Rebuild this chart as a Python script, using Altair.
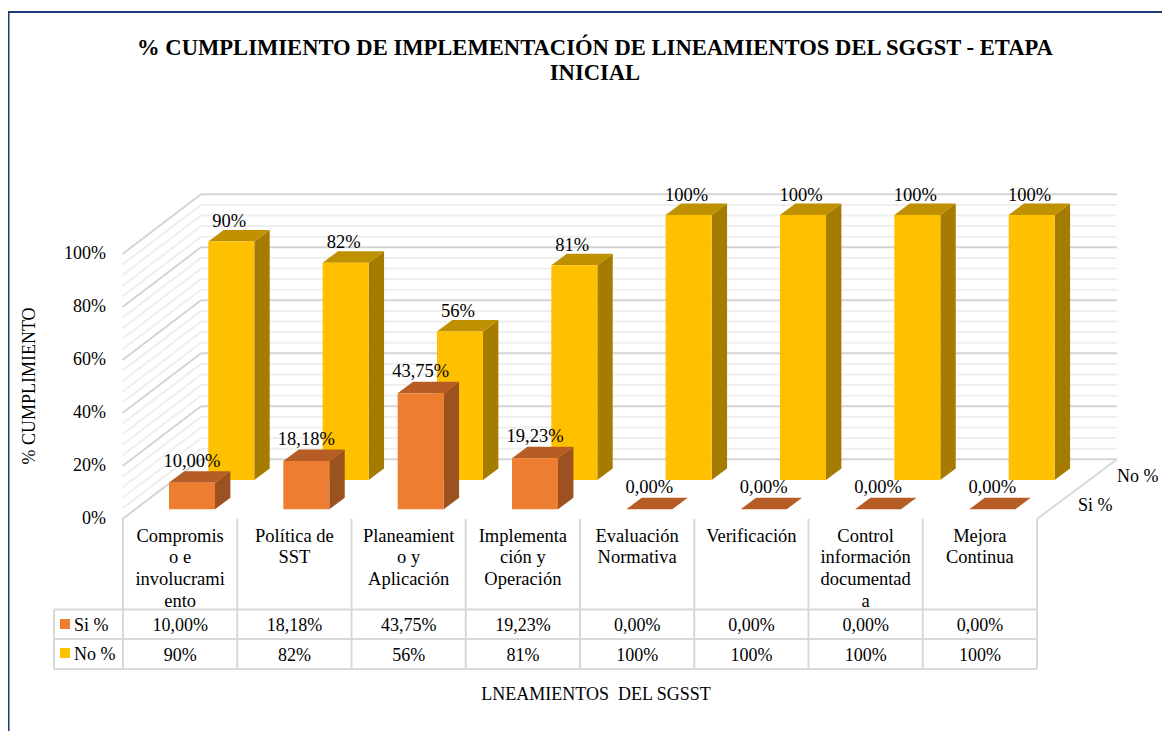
import altair as alt
import pandas as pd

title_lines = ["% CUMPLIMIENTO DE IMPLEMENTACIÓN DE LINEAMIENTOS DEL SGGST - ETAPA", "INICIAL"]
cat_lines = [
    ["Compromis", "o e", "involucrami", "ento"],
    ["Política de", "SST"],
    ["Planeamient", "o y", "Aplicación"],
    ["Implementa", "ción y", "Operación"],
    ["Evaluación", "Normativa"],
    ["Verificación"],
    ["Control", "información", "documentad", "a"],
    ["Mejora", "Continua"],
]
si_values = [10.0, 18.18, 43.75, 19.23, 0.0, 0.0, 0.0, 0.0]
no_values = [90, 82, 56, 81, 100, 100, 100, 100]
si_labels = ["10,00%", "18,18%", "43,75%", "19,23%", "0,00%", "0,00%", "0,00%", "0,00%"]
no_labels = ["90%", "82%", "56%", "81%", "100%", "100%", "100%", "100%"]
y_ticks = [0, 20, 40, 60, 80, 100]

W, H = 1154, 723
X0, XU = 123.0, 114.25   # page x of category 0, px per category
Y0, YU = 519.0, 2.65     # page y of 0 %, px per 1 %


def X(p):
    return (p - X0) / XU


def Y(p):
    return (Y0 - p) / YU


xs = alt.Scale(domain=[X(8), X(8 + W)], nice=False, zero=False)
ys = alt.Scale(domain=[Y(8 + H), Y(8)], nice=False, zero=False)
ex = alt.X("x:Q", scale=xs, axis=None)
ey = alt.Y("y:Q", scale=ys, axis=None)
ex2, ey2 = alt.X2("x2:Q"), alt.Y2("y2:Q")

GRID_MAJOR, GRID_MINOR, TABLE = "#d4d4d4", "#efefef", "#d9d9d9"
FONT = "Liberation Serif"
BAR_W = 46 / XU
STEP = 114.34 / XU
DX, DY = 15.4 / XU, 11.5 / YU
BACK_L, BACK_R, BACK_Y0 = 201.0, 1117.0, 459.3


def segs(rows):
    return pd.DataFrame([dict(x=X(a), x2=X(c), y=Y(b), y2=Y(d)) for a, b, c, d in rows])


def rules(rows, color, width):
    return alt.Chart(segs(rows)).mark_rule(color=color, strokeWidth=width).encode(x=ex, x2=ex2, y=ey, y2=ey2)


minor, major = [], []
for pct in range(0, 101, 4):
    yb = BACK_Y0 - pct * YU
    target = major if pct % 20 == 0 else minor
    target.append((BACK_L, yb, BACK_R, yb))
    target.append((BACK_L, yb, 122.5, yb + 59.7))

layers = [rules(minor, GRID_MINOR, 2), rules(major, GRID_MAJOR, 2)]
layers.append(rules([(1117, 459.3, 1037, 519)], TABLE, 2))

table = [(54, 609.5, 1037, 609.5), (54, 639, 1037, 639), (54, 669, 1037, 669), (54, 609.5, 54, 669)]
for k in range(9):
    xp = X0 + k * XU
    table.append((xp, 519, xp, 669))
layers.append(rules(table, TABLE, 2))


def bars(values, x_off, base, front, top, side):
    fr, sd, tp = [], [], []
    for i, v in enumerate(values):
        x0 = i * STEP + x_off
        x1 = x0 + BAR_W
        fr.append(dict(x=x0, x2=x1, y=base, y2=base + v))
        sd += [dict(id=i, x=x1, y=base, y2=base + v), dict(id=i, x=x1 + DX, y=base + DY, y2=base + v + DY)]
        tp += [dict(id=i, x=x0, x2=x1, y=base + v), dict(id=i, x=x0 + DX, x2=x1 + DX, y=base + v + DY)]
    return [
        alt.Chart(pd.DataFrame(sd)).mark_area(color=side).encode(x=ex, y=ey, y2=ey2, detail="id:N"),
        alt.Chart(pd.DataFrame(tp)).mark_area(color=top, orient="horizontal").encode(y=ey, x=ex, x2=ex2, detail="id:N"),
        alt.Chart(pd.DataFrame(fr)).mark_rect(color=front).encode(x=ex, x2=ex2, y=ey, y2=ey2),
    ]


NO_OFF, NO_BASE = X(208.3), Y(480)
SI_OFF, SI_BASE = X(169), Y(509.3)
layers += bars(no_values, NO_OFF, NO_BASE, "#FFC000", "#BF9000", "#A67C00")
layers += bars(si_values, SI_OFF, SI_BASE, "#ED7D31", "#B55D24", "#9C5220")

bar_labels = []
for i, (v, s) in enumerate(zip(no_values, no_labels)):
    bar_labels.append(dict(x=i * STEP + NO_OFF + BAR_W / 2 - 2 / XU, y=NO_BASE + v + 20.5 / YU, t=s))
for i, (v, s) in enumerate(zip(si_values, si_labels)):
    bar_labels.append(dict(x=i * STEP + SI_OFF + BAR_W / 2, y=SI_BASE + v + 22 / YU, t=s))

cat_texts = []
for i, lines in enumerate(cat_lines):
    for j, line in enumerate(lines):
        cat_texts.append(dict(x=i + 0.5, y=Y(535.5 + j * 21.7), t=line))

texts = []
for i in range(len(cat_lines)):
    texts.append(dict(x=i + 0.5, y=Y(625.5), t=si_labels[i]))
    texts.append(dict(x=i + 0.5, y=Y(655.5), t=no_labels[i]))
texts.append(dict(x=X(596), y=Y(695), t="LNEAMIENTOS \u00a0DEL SGSST"))


def text_layer(rows, size=18, **kw):
    return alt.Chart(pd.DataFrame(rows)).mark_text(font=FONT, fontSize=size, color="#000000", baseline="middle", **kw).encode(
        x=ex, y=ey, text="t:N")


layers.append(text_layer(bar_labels, size=18.5, align="center"))
layers.append(text_layer(cat_texts, size=18.5, align="center"))
layers.append(text_layer(texts, align="center"))
layers.append(text_layer([dict(x=X(106), y=t + 0.5 / YU, t=f"{t}%") for t in y_ticks], align="right"))
layers.append(text_layer([dict(x=X(74), y=Y(625.5), t="Si %"), dict(x=X(74), y=Y(655), t="No %"),
                          dict(x=X(1117), y=Y(476.5), t="No %"), dict(x=X(1078), y=Y(506), t="Si %")], align="left"))
layers.append(text_layer([dict(x=X(30), y=Y(386), t="% CUMPLIMIENTO")], align="center", angle=270))
layers.append(alt.Chart(pd.DataFrame([dict(x=X(595), y=Y(48 + k * 25), t=t) for k, t in enumerate(title_lines)])).mark_text(
    font=FONT, fontSize=22.6, fontWeight="bold", color="#000000", baseline="middle", align="center").encode(x=ex, y=ey, text="t:N"))

swatch = pd.DataFrame([dict(x=X(60), x2=X(70), y=Y(619), y2=Y(629), c="#ED7D31"),
                       dict(x=X(60), x2=X(70), y=Y(648), y2=Y(658), c="#FFC000")])
layers.append(alt.Chart(swatch).mark_rect().encode(x=ex, x2=ex2, y=ey, y2=ey2, color=alt.Color("c:N", scale=None)))

layers.append(rules([(8.5, 12, 8.5, 731), (8, 12, 1162, 12)], "#1F3A7A", 2))

chart = alt.layer(*layers).properties(
    width=W, height=H, padding=0, background="white", autosize=alt.AutoSizeParams(type="none")
).configure_view(stroke=None)
chart.save("out.html", embed_options={"renderer": "svg", "actions": False})
